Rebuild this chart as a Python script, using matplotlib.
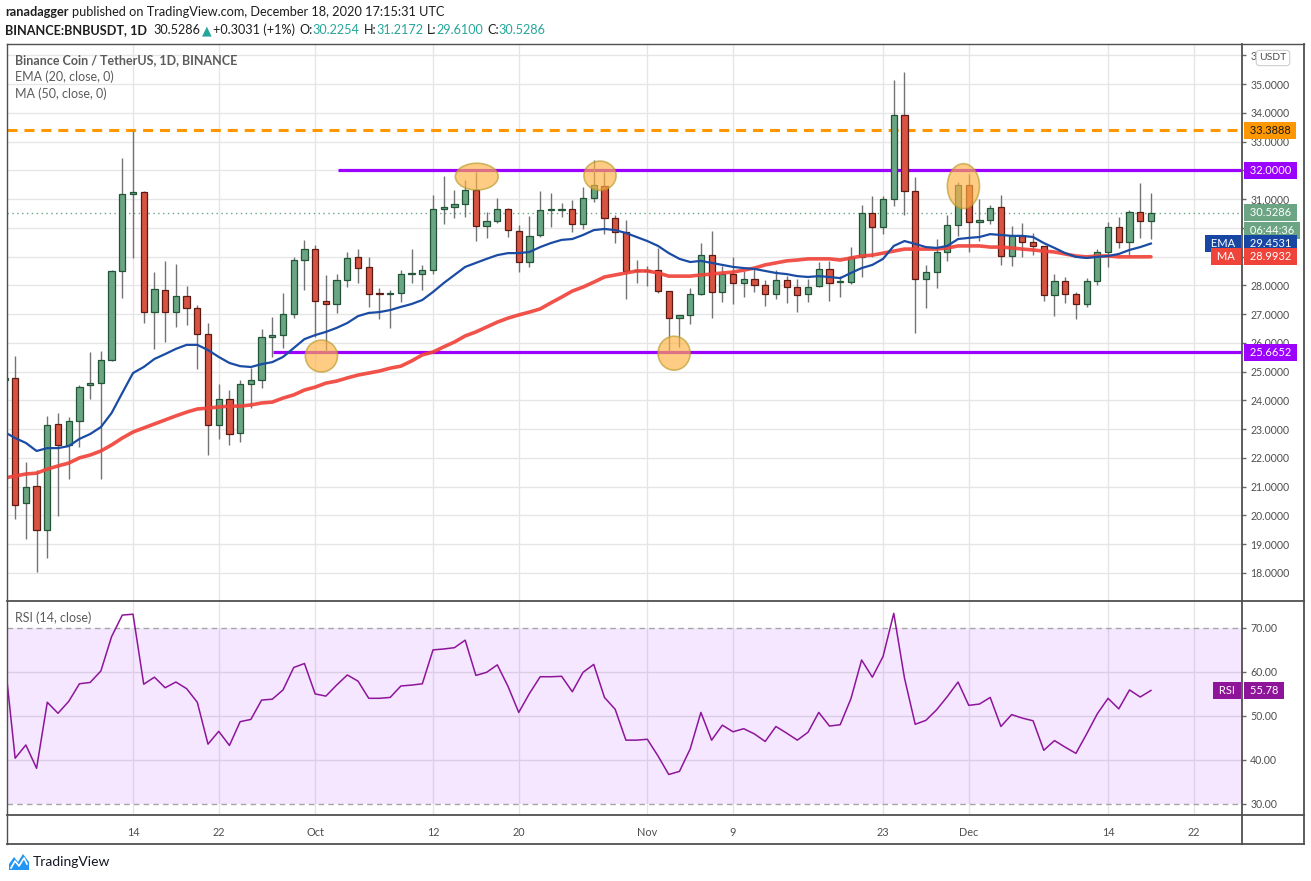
import numpy as np
import pandas as pd
import matplotlib
matplotlib.use("Agg")
import matplotlib.pyplot as plt
from matplotlib.patches import Ellipse, Polygon
from matplotlib.lines import Line2D

plt.rcParams['font.family'] = ['Lato', 'DejaVu Sans']
plt.rcParams['lines.scale_dashes'] = False

W, H = 1311, 881

# ---- data (BNB/USDT daily, Sep 2 .. Dec 18 2020) ----
dates = pd.date_range('2020-09-02', '2020-12-18', freq='D')

opens = [
    24.70, 24.78, 20.43, 21.02, 19.49, 23.18, 22.45, 23.28, 24.55, 24.62, 25.40, 28.50, 31.18, 31.25, 27.07,
    27.84, 27.07, 27.63, 27.21, 26.31, 23.14, 24.05, 22.86, 24.57, 24.71, 26.20, 26.27, 27.00, 28.88,
    29.26, 27.45, 27.35, 28.18, 28.98, 28.64, 27.72, 27.70, 27.73, 28.39, 28.39, 28.53, 30.65, 30.72, 30.83,
    31.31, 30.06, 30.24, 30.65, 29.89, 28.81, 29.75, 30.62, 30.63, 30.65, 30.13, 31.04, 31.45, 30.34, 29.85, 28.49,
    28.50, 28.53, 27.80, 26.86, 26.97, 27.70, 29.05, 27.77, 28.39, 28.08, 28.22, 28.01, 27.70, 28.18, 27.94,
    27.70, 27.98, 28.57, 28.11, 28.11, 28.98, 30.52, 30.03, 31.00, 33.92, 31.28, 28.22, 28.46, 29.16, 30.10,
    31.49, 30.20, 30.27, 30.72, 29.02, 29.71, 29.51, 29.37, 27.66, 28.15, 27.70, 27.35, 28.15, 29.16, 30.03,
    29.51, 30.55, 30.2254]
highs = [
    24.82, 25.54, 21.86, 21.58, 23.46, 23.56, 23.42, 24.53, 25.68, 25.72, 28.53, 32.43, 33.37, 31.28, 28.46,
    28.84, 28.74, 27.98, 27.32, 26.69, 24.57, 24.36, 24.71, 25.12, 26.48, 26.90, 27.73, 28.98, 29.58,
    29.40, 28.36, 28.39, 29.16, 29.26, 28.98, 27.91, 27.84, 28.53, 29.26, 28.71, 31.14, 31.80, 31.31, 31.66,
    31.94, 30.55, 31.04, 30.69, 30.10, 30.41, 31.28, 31.21, 30.86, 30.97, 31.42, 32.36, 31.94, 30.45, 30.27, 28.88,
    28.67, 29.30, 27.80, 26.97, 27.91, 29.47, 29.89, 28.67, 28.98, 28.50, 28.60, 28.18, 28.53, 28.32, 28.22,
    28.22, 28.81, 28.84, 28.32, 29.33, 30.79, 31.11, 31.11, 35.14, 35.42, 31.77, 28.71, 29.61, 30.45, 31.59,
    31.87, 31.00, 30.79, 31.14, 30.06, 30.17, 29.82, 29.37, 28.39, 28.29, 27.77, 28.25, 29.26, 30.20, 30.38,
    30.62, 31.56, 31.2172]
lows = [
    24.66, 19.87, 19.18, 18.03, 18.52, 19.98, 21.27, 22.38, 24.05, 21.27, 25.37, 27.56, 28.95, 26.69, 25.79,
    26.03, 26.55, 26.62, 25.09, 22.10, 22.66, 22.45, 22.55, 23.73, 24.43, 25.51, 25.82, 26.86, 27.84,
    26.20, 25.68, 27.04, 27.94, 28.08, 27.25, 26.83, 26.52, 27.42, 28.08, 27.84, 28.39, 30.13, 30.34, 30.38,
    29.54, 29.65, 30.17, 29.68, 28.46, 28.64, 29.68, 30.03, 30.38, 29.85, 29.96, 30.90, 29.78, 29.47, 27.52, 28.08,
    27.98, 27.73, 25.72, 25.86, 26.66, 27.66, 26.86, 27.42, 27.35, 27.59, 27.77, 27.28, 27.52, 27.38, 27.07,
    27.42, 27.94, 27.45, 27.59, 28.05, 28.29, 28.98, 29.78, 30.76, 30.45, 26.34, 27.21, 27.91, 28.84, 29.71,
    29.16, 29.54, 30.13, 28.71, 28.67, 28.98, 29.05, 27.45, 26.93, 27.38, 26.83, 27.25, 28.01, 28.64, 29.30,
    29.02, 29.65, 29.61]
closes = [
    24.78, 20.36, 20.99, 19.49, 23.14, 22.45, 23.28, 24.46, 24.62, 25.40, 28.50, 31.18, 31.25, 27.07, 27.87,
    27.07, 27.63, 27.21, 26.31, 23.14, 24.05, 22.83, 24.57, 24.71, 26.20, 26.27, 27.00, 28.88, 29.26,
    27.45, 27.35, 28.18, 28.95, 28.60, 27.70, 27.69, 27.73, 28.39, 28.43, 28.53, 30.65, 30.72, 30.83, 31.31,
    30.06, 30.24, 30.65, 29.92, 28.81, 29.71, 30.62, 30.64, 30.66, 30.13, 31.04, 31.49, 30.34, 29.85, 28.50, 28.52,
    28.53, 27.80, 26.86, 26.97, 27.70, 29.05, 27.77, 28.39, 28.08, 28.22, 28.01, 27.70, 28.18, 27.94, 27.66,
    27.94, 28.57, 28.08, 28.15, 28.98, 30.52, 30.03, 31.00, 33.92, 31.28, 28.22, 28.46, 29.16, 30.10, 31.49,
    30.20, 30.27, 30.69, 29.02, 29.71, 29.51, 29.37, 27.66, 28.15, 27.70, 27.35, 28.15, 29.16, 30.03, 29.51,
    30.55, 30.24, 30.5286]
ema20 = [
    22.90, 22.69, 22.52, 22.24, 22.34, 22.34, 22.41, 22.66, 22.83, 23.07, 23.56, 24.26, 24.95, 25.16, 25.44,
    25.61, 25.79, 25.93, 25.93, 25.75, 25.51, 25.30, 25.19, 25.16, 25.26, 25.33, 25.51, 25.82, 26.13,
    26.27, 26.38, 26.52, 26.69, 26.93, 27.04, 27.07, 27.14, 27.25, 27.35, 27.49, 27.77, 28.08, 28.36, 28.64,
    28.78, 28.92, 29.05, 29.12, 29.12, 29.16, 29.33, 29.47, 29.58, 29.61, 29.75, 29.92, 29.96, 29.92, 29.82, 29.68,
    29.54, 29.37, 29.12, 28.92, 28.81, 28.85, 28.78, 28.71, 28.64, 28.60, 28.57, 28.50, 28.43, 28.39, 28.32,
    28.29, 28.32, 28.29, 28.25, 28.43, 28.60, 28.71, 28.92, 29.37, 29.54, 29.44, 29.33, 29.30, 29.37, 29.61,
    29.65, 29.68, 29.78, 29.75, 29.72, 29.72, 29.68, 29.47, 29.30, 29.12, 28.99, 28.95, 28.99, 29.02, 29.09,
    29.23, 29.33, 29.4531]
ma50 = [
    21.30, 21.37, 21.44, 21.47, 21.61, 21.72, 21.82, 22.00, 22.10, 22.24, 22.45, 22.69, 22.90, 23.04, 23.18,
    23.32, 23.46, 23.59, 23.70, 23.73, 23.77, 23.80, 23.80, 23.84, 23.91, 23.94, 24.08, 24.19, 24.36,
    24.46, 24.60, 24.67, 24.78, 24.88, 24.95, 25.02, 25.12, 25.19, 25.37, 25.58, 25.68, 25.86, 26.03, 26.24,
    26.38, 26.55, 26.72, 26.86, 26.97, 27.07, 27.18, 27.39, 27.59, 27.80, 27.94, 28.11, 28.29, 28.36, 28.43, 28.50,
    28.50, 28.43, 28.32, 28.32, 28.32, 28.36, 28.39, 28.43, 28.46, 28.53, 28.60, 28.71, 28.78, 28.85, 28.88,
    28.92, 28.92, 28.92, 28.88, 28.95, 29.02, 29.05, 29.12, 29.19, 29.26, 29.26, 29.26, 29.26, 29.30, 29.37,
    29.37, 29.37, 29.33, 29.33, 29.30, 29.26, 29.23, 29.19, 29.16, 29.09, 29.02, 28.99, 29.02, 29.02, 28.99,
    28.99, 28.99, 28.9932]
rsi14 = [
    63.5, 40.4, 43.4, 38.1, 53.1, 50.6, 53.3, 57.3, 57.6, 60.2, 68.0, 72.9, 73.1, 57.2, 58.8,
    56.4, 57.7, 56.2, 53.1, 43.6, 46.5, 43.3, 48.7, 49.2, 53.6, 53.8, 55.9, 61.0, 61.9,
    55.0, 54.5, 57.0, 59.3, 57.9, 54.0, 54.0, 54.2, 56.8, 57.0, 57.3, 65.0, 65.2, 65.5, 67.2,
    59.2, 59.9, 61.6, 56.7, 50.8, 55.1, 58.9, 58.9, 59.0, 55.5, 59.9, 61.7, 54.2, 51.5, 44.5, 44.5,
    44.7, 40.9, 36.7, 37.4, 42.5, 50.8, 44.5, 47.9, 46.4, 47.1, 45.9, 44.2, 47.6, 46.1, 44.5,
    46.3, 50.8, 47.7, 48.0, 53.9, 62.7, 58.8, 63.5, 73.3, 58.6, 48.1, 49.0, 51.4, 54.4, 57.7,
    52.4, 52.7, 54.2, 47.6, 50.3, 49.5, 48.9, 42.2, 44.4, 42.9, 41.5, 45.9, 50.5, 54.0, 51.6,
    55.9, 54.3, 55.78]

tick_dates = ['2020-09-14', '2020-09-22', '2020-10-01', '2020-10-12', '2020-10-20', '2020-11-01',
              '2020-11-09', '2020-11-23', '2020-12-01', '2020-12-14', '2020-12-22']

price_ticks = list(range(18, 37))
hidden_ticks = [29, 30, 32]   # covered by the value tags on the price scale

resistance = 32.0
support = 25.6652
prev_high = 33.3888
last_close = 30.5286
res_from = '2020-10-03'
sup_from = '2020-09-27'

# highlighted touches: (date, price, width in days, height in price)
circle_dates = ['2020-10-01 14:00', '2020-10-16 02:00', '2020-10-27 14:00', '2020-11-03 12:00', '2020-11-30 12:00']
circle_prices = [25.54, 31.78, 31.81, 25.64, 31.45]
circle_w = [3.0, 4.0, 3.0, 3.0, 3.0]
circle_h = [1.11, 0.93, 1.02, 1.18, 1.56]

# ---- helpers ----
t0 = dates[0]
def day_pos(d):
    return (pd.Timestamp(d) - t0) / pd.Timedelta(days=1)

def fx(px):
    return px / W

def fy(py):
    return 1 - py / H

x = np.arange(len(dates))
x_left, x_right = 0.24, 115.5

green, green_edge = '#6ba583', '#225437'
red, red_edge = '#d75442', '#5b1a13'
wick = '#737375'
grid_c = '#e6e6e6'
txt_c = '#4e4e4e'
purple = '#9c00ff'
orange = '#ff9800'

fig = plt.figure(figsize=(W / 100, H / 100), dpi=100)
ax = fig.add_axes([fx(7), fy(601), (1242 - 7) / W, (601 - 44) / H])
rax = fig.add_axes([fx(7), fy(815), (1242 - 7) / W, (815 - 601) / H])

tick_pos = [day_pos(d) for d in tick_dates]
tick_lab = [pd.Timestamp(d).strftime('%b') if pd.Timestamp(d).day == 1 else str(pd.Timestamp(d).day)
            for d in tick_dates]

# ---- main pane ----
ax.set_xlim(x_left, x_right)
ax.set_ylim(17.024, 36.391)
for p in price_ticks:
    ax.axhline(p, color=grid_c, lw=1, zorder=0)
for tp in tick_pos:
    ax.axvline(tp, color=grid_c, lw=1, zorder=0)

ax.axhline(prev_high, color=orange, lw=2.2, linestyle=(0, (7.2, 5)), zorder=2)
ax.hlines(resistance, day_pos(res_from) + 0.13, x_right, color=purple, lw=2.3, zorder=2)
ax.hlines(support, day_pos(sup_from) + 0.07, x_right, color=purple, lw=2.3, zorder=2)
ax.axhline(last_close, color=green, lw=1, linestyle=(0, (1, 2.5)), zorder=2)

o = np.array(opens); c = np.array(closes)
up = c >= o
body_lo = np.minimum(o, c)
body_h = np.maximum(np.abs(c - o), 0.035)
ax.vlines(x, lows, highs, color=wick, lw=1, zorder=3)
ax.bar(x, body_h, bottom=body_lo, width=0.58,
       color=np.where(up, green, red), edgecolor=np.where(up, green_edge, red_edge),
       lw=0.9, zorder=4)

ax.plot(x, ma50, color='#f0433a', lw=2.6, alpha=0.92, zorder=5, solid_capstyle='round')
ax.plot(x, ema20, color='#1a4ca4', lw=1.6, zorder=6)

for d, p, w, h in zip(circle_dates, circle_prices, circle_w, circle_h):
    ax.add_patch(Ellipse((day_pos(d), p), w, h, fc='#ffb142', ec='#b89a2a', lw=1.2,
                         alpha=0.65, zorder=7))

ax.yaxis.tick_right()
ax.set_yticks(price_ticks)
ax.set_yticklabels(['' if v in hidden_ticks else f'{v:.4f}' for v in price_ticks])
ax.tick_params(axis='y', length=3, width=1, color='#666', labelsize=7.6, labelcolor=txt_c, pad=3)
ax.set_xticks(tick_pos)
ax.tick_params(axis='x', length=0, labelbottom=False)
for s in ax.spines.values():
    s.set_visible(False)


def tag(axis, y, text, fc, tc='white', dy=0, side='right'):
    if side == 'right':
        ha, dx = 'left', 3.5
    else:
        ha, dx = 'right', -3.0
    axis.annotate(text, xy=(1, y), xycoords=('axes fraction', 'data'), xytext=(dx, dy),
                  textcoords='offset points', ha=ha, va='center', fontsize=8, color=tc,
                  bbox=dict(boxstyle='square,pad=0.25', fc=fc, ec='none'),
                  annotation_clip=False, zorder=20)


tag(ax, prev_high, ' 33.3888 ', orange, '#1a1a1a')
tag(ax, resistance, ' 32.0000 ', purple)
tag(ax, last_close, ' 30.5286 ', green)
tag(ax, last_close, ' 06:44:36 ', green, dy=-13)
tag(ax, ema20[-1], ' 29.4531 ', '#1846a3')
tag(ax, ema20[-1], ' EMA ', '#1846a3', side='left')
tag(ax, ma50[-1], ' 28.9932 ', '#f0433a')
tag(ax, ma50[-1], ' MA ', '#f0433a', side='left')
tag(ax, support, ' 25.6652 ', purple)

# ---- RSI pane ----
rax.set_xlim(x_left, x_right)
rax.set_ylim(27.5, 76.1)
for tp in tick_pos:
    rax.axvline(tp, color=grid_c, lw=1, zorder=0)
for lv in (40, 50, 60):
    rax.axhline(lv, color='#e2e2e2', lw=1, zorder=0)
rax.axhspan(30, 70, color='#9915ff', alpha=0.1, lw=0, zorder=1)
for lv in (30, 70):
    rax.axhline(lv, color='#a6a6a6', lw=1, linestyle=(0, (4, 3)), zorder=2)
rax.plot(x, rsi14, color='#8e1599', lw=1.1, zorder=3)

rax.yaxis.tick_right()
rax.set_yticks([30, 40, 50, 60, 70])
rax.set_yticklabels([f'{v:.2f}' for v in (30, 40, 50, 60, 70)])
rax.tick_params(axis='y', length=3, width=1, color='#666', labelsize=7.6, labelcolor=txt_c, pad=3)
rax.set_xticks(tick_pos)
rax.set_xticklabels(tick_lab)
rax.tick_params(axis='x', length=0, labelsize=7.8, labelcolor=txt_c, pad=9)
for s in rax.spines.values():
    s.set_visible(False)

tag(rax, rsi14[-1], ' 55.78 ', '#8e1599')
tag(rax, rsi14[-1], ' RSI ', '#8e1599', side='left')

# ---- frame ----
frame = '#505050'
def fline(xs, ys, lw=1.0):
    fig.add_artist(Line2D([fx(v) for v in xs], [fy(v) for v in ys], color=frame, lw=lw))

fline([7, 1304], [44, 44])
fline([7, 1304], [844, 844], 1.3)
fline([7, 7], [44, 844])
fline([1304, 1304], [44, 844], 1.3)
fline([1242, 1242], [44, 844], 1.3)
fline([7, 1304], [601, 601], 1.3)
fline([7, 1304], [815, 815], 1.3)

fig.text(fx(1273), fy(58), 'USDT', fontsize=7.5, color=txt_c, ha='center', va='center',
         bbox=dict(boxstyle='round,pad=0.3', fc='white', ec='#cfcfcf', lw=0.8), zorder=30)

# ---- texts ----
fig.text(fx(15), fy(60), 'Binance Coin / TetherUS, 1D, BINANCE', fontsize=9, weight='bold',
         color='#5c5c5c', va='center')
fig.text(fx(15), fy(77), 'EMA (20, close, 0)', fontsize=9, color='#5c5c5c', va='center')
fig.text(fx(15), fy(94), 'MA (50, close, 0)', fontsize=9, color='#5c5c5c', va='center')
fig.text(fx(15), fy(618), 'RSI (14, close)', fontsize=9, color='#5c5c5c', va='center')


def chain(parts, x0, y0, size):
    prev = fig.text(fx(x0), fy(y0), parts[0][0], fontsize=size, color=parts[0][1],
                    weight=parts[0][2], va='center')
    for s, col, wt, gap in parts[1:]:
        prev = ax.annotate(s, xy=(1, 0.5), xycoords=prev, xytext=(gap, 0),
                           textcoords='offset points', ha='left', va='center',
                           fontsize=size, color=col, weight=wt, annotation_clip=False)


teal = '#26a69a'
dark = '#1e1e1e'
chain([('ranadagger', dark, 'bold'),
       ('published on TradingView.com, December 18, 2020 17:15:31 UTC', dark, 'normal', 2.3)],
      5, 12, 9.2)
chain([('BINANCE:BNBUSDT, 1D', dark, 'bold'),
       ('30.5286', dark, 'normal', 4.5),
       ('▲', teal, 'normal', 1.3),
       ('+0.3031 (+1%)', dark, 'normal', 1.3),
       ('O:', dark, 'normal', 2.8),
       ('30.2254', teal, 'normal', 0),
       ('H:', dark, 'normal', 2.8),
       ('31.2172', teal, 'normal', 0),
       ('L:', dark, 'normal', 2.8),
       ('29.6100', teal, 'normal', 0),
       ('C:', dark, 'normal', 2.8),
       ('30.5286', teal, 'normal', 0)], 5, 30, 9.1)

# TradingView mark
logo = [(9, 870), (9, 864), (14, 857), (18, 862), (23, 854), (29, 862), (29, 870)]
fig.add_artist(Polygon([(fx(a), fy(b)) for a, b in logo], closed=True, fc='#2196f3', ec='none'))
fig.add_artist(Line2D([fx(11), fx(15), fx(19), fx(24), fx(27)], [fy(868), fy(861), fy(866), fy(858), fy(864)],
                      color='white', lw=1.2))
fig.text(fx(33), fy(862), 'TradingView', fontsize=10, color='#131722', va='center')

fig.savefig('out.png', dpi=100, facecolor='white')
